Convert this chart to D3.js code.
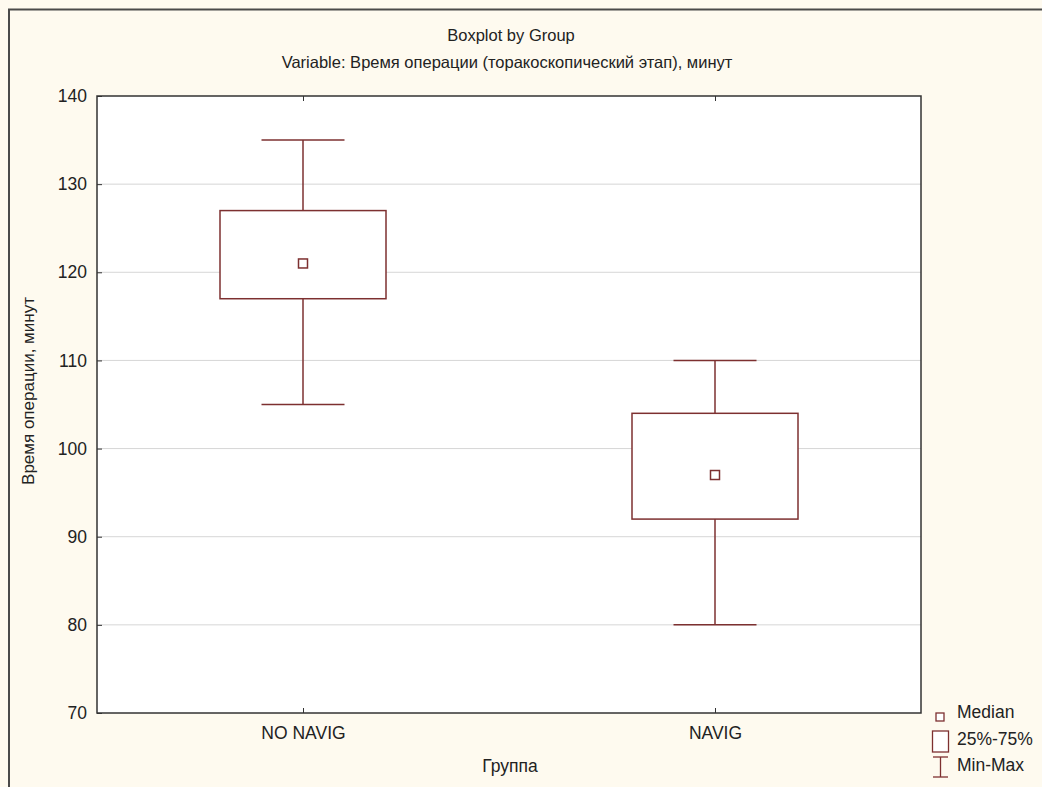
<!DOCTYPE html>
<html>
<head>
<meta charset="utf-8">
<script src="https://cdn.jsdelivr.net/npm/d3@7"></script>
<style>
  body { margin: 0; background: #fefaef; }
  svg { display: block; }
  text { font-family: "Liberation Sans", Arial, sans-serif; fill: #222; }
</style>
</head>
<body>
<div id="chart"></div>
<script>
// DATA
var groups = ["NO NAVIG", "NAVIG"];
var medians = [121, 97];
var q1 = [117, 92];
var q3 = [127, 104];
var mins = [105, 80];
var maxs = [135, 110];
var yTicks = [70, 80, 90, 100, 110, 120, 130, 140];
var legendLabels = ["Median", "25%-75%", "Min-Max"];

var title = "Boxplot by Group";
var subtitle = "Variable: Время операции (торакоскопический этап), минут";
var yTitle = "Время операции, минут";
var xTitle = "Группа";

var W = 1042, H = 787;
var margin = { top: 96, right: 121, bottom: 74, left: 97 },
    width = W - margin.left - margin.right,
    height = H - margin.top - margin.bottom;

var boxColor = "#7d3030";
var tickFont = "17.5px";

var svg = d3.select("#chart").append("svg")
    .attr("width", W)
    .attr("height", H);

// background + outer frame (cropped on right / bottom)
svg.append("rect")
    .attr("x", 0).attr("y", 0).attr("width", W).attr("height", H)
    .style("fill", "#fefaef");
svg.append("rect")
    .attr("x", 9).attr("y", 9.5).attr("width", W + 10).attr("height", H + 10)
    .style("fill", "none")
    .style("stroke", "#4a4a4a")
    .style("stroke-width", 2);

var x = d3.scalePoint().domain(groups).range([0, width]).padding(0.5);
var y = d3.scaleLinear().domain([70, 140]).range([height, 0]);

var g = svg.append("g")
    .attr("transform", "translate(" + margin.left + "," + margin.top + ")");

g.append("rect")
    .attr("width", width).attr("height", height)
    .style("fill", "#ffffff");

// grid lines
g.selectAll(".grid")
    .data(yTicks.slice(1, -1))
    .enter().append("line")
    .attr("x1", 0).attr("x2", width)
    .attr("y1", function(d) { return y(d); })
    .attr("y2", function(d) { return y(d); })
    .style("stroke", "#d6d6d6")
    .style("stroke-width", 1);

// y axis (ticks inward)
var yAxis = g.append("g")
    .call(d3.axisLeft(y).tickValues(yTicks).tickSize(-5).tickPadding(10));
yAxis.select(".domain").remove();
yAxis.selectAll("line").style("stroke", "#333");
yAxis.selectAll("text").style("font-size", tickFont).style("fill", "#222")
    .style("font-family", "'Liberation Sans', Arial, sans-serif");

// x axis ticks (inward, top and bottom)
var xAxis = g.append("g")
    .attr("transform", "translate(0," + height + ")")
    .call(d3.axisBottom(x).tickSize(-5).tickPadding(14));
xAxis.select(".domain").remove();
xAxis.selectAll("line").style("stroke", "#333");
xAxis.selectAll("text").style("font-size", tickFont).style("fill", "#222")
    .style("font-family", "'Liberation Sans', Arial, sans-serif");

var xTop = g.append("g")
    .call(d3.axisTop(x).tickSize(-5).tickFormat(""));
xTop.select(".domain").remove();
xTop.selectAll("line").style("stroke", "#333");

// boxes
var boxW = 166, capW = 83, medS = 9;
var boxes = g.selectAll(".box")
    .data(groups)
    .enter().append("g")
    .attr("class", "box");

boxes.append("line")
    .attr("x1", function(d) { return x(d); })
    .attr("x2", function(d) { return x(d); })
    .attr("y1", function(d, i) { return y(maxs[i]); })
    .attr("y2", function(d, i) { return y(q3[i]); })
    .style("stroke", boxColor).style("stroke-width", 1.5);
boxes.append("line")
    .attr("x1", function(d) { return x(d); })
    .attr("x2", function(d) { return x(d); })
    .attr("y1", function(d, i) { return y(q1[i]); })
    .attr("y2", function(d, i) { return y(mins[i]); })
    .style("stroke", boxColor).style("stroke-width", 1.5);
boxes.append("line")
    .attr("x1", function(d) { return x(d) - capW / 2; })
    .attr("x2", function(d) { return x(d) + capW / 2; })
    .attr("y1", function(d, i) { return y(maxs[i]); })
    .attr("y2", function(d, i) { return y(maxs[i]); })
    .style("stroke", boxColor).style("stroke-width", 1.5);
boxes.append("line")
    .attr("x1", function(d) { return x(d) - capW / 2; })
    .attr("x2", function(d) { return x(d) + capW / 2; })
    .attr("y1", function(d, i) { return y(mins[i]); })
    .attr("y2", function(d, i) { return y(mins[i]); })
    .style("stroke", boxColor).style("stroke-width", 1.5);
boxes.append("rect")
    .attr("x", function(d) { return x(d) - boxW / 2; })
    .attr("y", function(d, i) { return y(q3[i]); })
    .attr("width", boxW)
    .attr("height", function(d, i) { return y(q1[i]) - y(q3[i]); })
    .style("fill", "#ffffff")
    .style("stroke", boxColor).style("stroke-width", 1.5);
boxes.append("rect")
    .attr("x", function(d) { return x(d) - medS / 2; })
    .attr("y", function(d, i) { return y(medians[i]) - medS / 2; })
    .attr("width", medS).attr("height", medS)
    .style("fill", "#ffffff")
    .style("stroke", boxColor).style("stroke-width", 1.5);

// plot frame
g.append("rect")
    .attr("width", width).attr("height", height)
    .style("fill", "none")
    .style("stroke", "#333")
    .style("stroke-width", 1.5);

// titles
svg.append("text")
    .attr("x", 511).attr("y", 41)
    .attr("text-anchor", "middle")
    .style("font-size", "16.5px")
    .text(title);
svg.append("text")
    .attr("x", 507).attr("y", 68)
    .attr("text-anchor", "middle")
    .style("font-size", "16.5px")
    .text(subtitle);
svg.append("text")
    .attr("transform", "translate(34," + 391 + ") rotate(-90)")
    .attr("text-anchor", "middle")
    .style("font-size", "17px")
    .text(yTitle);
svg.append("text")
    .attr("x", 510).attr("y", 772)
    .attr("text-anchor", "middle")
    .style("font-size", "17.5px")
    .text(xTitle);

// legend
var lg = svg.append("g").attr("transform", "translate(932,0)");
lg.append("rect")
    .attr("x", 4).attr("y", 713).attr("width", 8).attr("height", 8)
    .style("fill", "#fff").style("stroke", boxColor).style("stroke-width", 1.3);
lg.append("rect")
    .attr("x", 0.5).attr("y", 731).attr("width", 16).attr("height", 21)
    .style("fill", "#fff").style("stroke", boxColor).style("stroke-width", 1.3);
lg.append("line")
    .attr("x1", 1).attr("x2", 16).attr("y1", 757).attr("y2", 757)
    .style("stroke", boxColor).style("stroke-width", 1.3);
lg.append("line")
    .attr("x1", 8.5).attr("x2", 8.5).attr("y1", 757).attr("y2", 777)
    .style("stroke", boxColor).style("stroke-width", 1.3);
lg.append("line")
    .attr("x1", 1).attr("x2", 16).attr("y1", 777).attr("y2", 777)
    .style("stroke", boxColor).style("stroke-width", 1.3);
lg.selectAll(".lt")
    .data(legendLabels)
    .enter().append("text")
    .attr("x", 25)
    .attr("y", function(d, i) { return [718, 745, 771][i]; })
    .style("font-size", tickFont)
    .text(function(d) { return d; });
</script>
</body>
</html>
